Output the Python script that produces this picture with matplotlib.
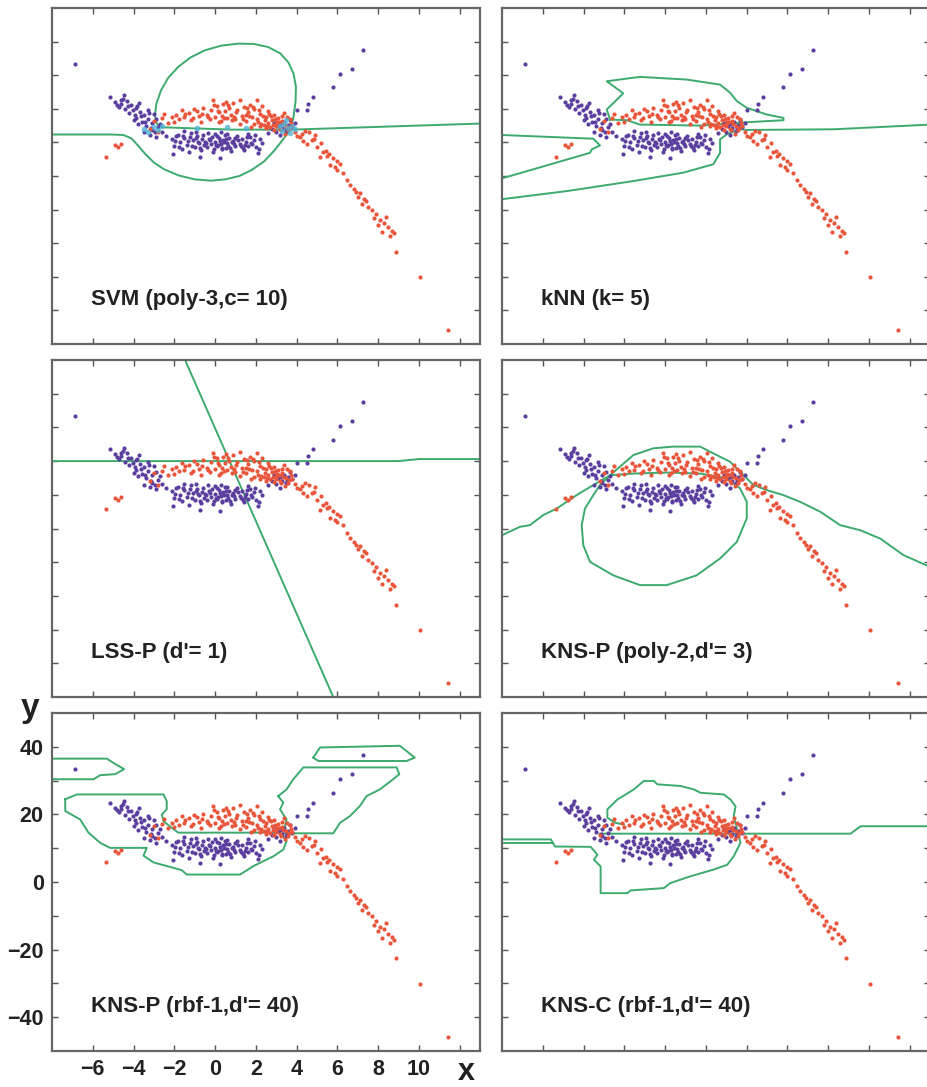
import numpy as np
import matplotlib
matplotlib.use('Agg')
import matplotlib.pyplot as plt

# ---- data (x, y) ----
purple_x = [-5.15,-4.46,-4.9,-4.6,-4.3,-4.1,-4.7,-4.4,-3.9,-3.7,-4.2,-3.5,-3.9,-3.3,-3.6,-3.1,-2.9,-3.4,-2.8,-3.1,-2.6,-3.8,-4.0,-3.3,-4.8,-3.0,-2.7,-3.5,-2.4,-3.2,-2.9,-4.5,-3.75,-4.05,
            -4.25,-3.95,-3.65,-3.45,-3.15,-2.95,-4.6,-3.85,-3.25,
            -2.1,-2.0,-2.04,-1.8,-1.7,-1.6,-1.5,-1.4,-1.3,-1.2,-1.1,-1.0,-0.9,-0.8,-0.73,-0.7,-0.6,-0.5,-0.4,-0.3,-0.2,-0.1,0.0,0.0,0.1,0.2,0.25,0.3,0.35,0.4,0.5,0.55,0.6,0.7,0.8,0.9,1.0,1.1,1.2,1.3,1.4,1.5,1.6,1.7,1.8,1.9,2.0,2.12,2.2,2.3,-0.25,0.15,0.45,-0.55,0.65,-1.9,-0.35,1.0,1.6,-1.5,0.3,-0.95,
            -1.95,-1.75,-1.55,-1.35,-1.15,-0.95,-0.75,-0.45,-0.15,0.05,0.25,0.55,0.75,0.95,1.15,1.35,1.55,1.75,1.95,2.15,-0.65,0.35,0.85,1.25,-1.25,-0.05,0.6,1.45,-0.85,0.1,
            2.6,2.8,3.0,3.1,3.3,3.4,3.5,3.6,3.7,3.8,3.2,2.9,3.9,3.55,3.25,
            4.0,4.5,4.58,4.82,5.8,6.13,6.7,7.27,-6.86]
purple_y = [23.5,24.0,22.0,21.5,22.3,21.0,20.6,19.8,20.2,19.0,18.7,18.2,17.4,17.0,16.2,15.8,16.9,14.9,14.5,13.6,13.2,15.5,16.6,19.6,21.2,18.4,15.6,13.0,12.0,12.3,11.6,23.0,21.8,19.5,
            20.9,18.2,17.8,16.0,14.2,13.0,22.5,20.7,18.8,
            11.0,9.0,6.6,12.2,10.0,8.1,11.3,9.2,7.0,12.8,10.6,8.6,11.8,9.8,5.6,7.6,12.1,10.2,8.5,11.0,9.4,7.2,12.6,10.1,8.8,11.4,5.3,9.6,7.9,10.8,12.2,8.4,9.9,11.2,7.4,10.4,8.9,12.0,9.6,11.0,7.8,10.2,8.8,11.6,9.4,10.7,8.6,6.8,11.0,9.8,10.6,9.2,10.0,9.1,9.0,11.9,12.8,11.4,12.6,13.3,13.0,13.1,
            10.3,8.7,12.0,10.4,9.0,11.2,8.2,9.8,11.7,9.1,10.5,11.1,8.3,9.5,10.8,8.4,11.5,9.9,12.1,8.0,10.9,8.3,10.0,9.0,11.6,8.1,12.4,9.3,10.1,11.9,
            12.8,14.0,13.2,15.0,14.2,16.0,13.5,15.2,16.8,14.6,12.1,15.8,15.9,14.4,15.4,
            19.5,19.5,21.5,23.5,26.4,30.4,31.9,37.5,33.4]

red_x = [-5.34,-4.9,-4.75,-4.6,
         -3.2,-3.0,-2.8,-2.6,-2.5,-2.3,-2.1,
         -1.9,-1.63,-1.5,-1.3,-1.1,-0.9,-0.8,-0.6,-0.4,-0.2,-0.08,0.0,0.1,0.2,0.3,0.4,0.5,0.6,0.7,0.8,0.9,1.0,1.1,1.23,1.3,1.4,1.5,1.6,1.7,1.8,1.9,2.04,2.1,2.2,2.3,2.4,2.5,2.6,2.7,2.8,2.9,3.0,3.1,3.2,3.3,3.4,3.5,3.6,3.7,3.8,2.2,2.6,2.9,3.05,1.9,2.45,2.75,3.35,1.5,0.95,0.45,-0.25,-1.2,-0.7,-2.0,0.2,1.2,1.75,3.9,3.45,4.0,
         -1.75,-1.45,-1.05,-0.65,-0.35,0.15,0.35,0.65,0.85,1.05,1.35,1.65,1.85,2.05,2.25,2.35,2.55,2.65,2.85,2.95,3.15,3.25,3.55,3.65,3.75,2.15,2.5,3.0,3.3,1.55,0.55,-0.05,
         4.17,4.4,4.74,4.5,4.9,5.0,5.15,5.3,5.5,5.64,5.8,6.0,6.13,6.29,6.0,6.62,6.8,7.1,6.9,7.2,7.3,7.7,7.5,7.9,8.1,8.4,8.2,8.0,8.5,8.8,8.6,8.9,10.05,11.44,4.3,5.6,4.6,5.2,
         4.25,4.85,5.45,5.9,6.45,7.0,7.4,7.8,8.3,8.7]
red_y = [5.8,9.1,8.6,9.4,
         14.0,16.5,13.0,17.2,18.5,15.9,17.6,
         18.2,19.5,17.5,18.8,17.2,19.2,17.8,20.2,18.1,19.6,22.5,17.6,20.8,18.9,16.5,21.3,19.4,17.4,20.1,18.3,21.8,16.9,19.7,22.7,18.0,20.6,16.4,19.0,21.2,17.5,19.9,22.5,16.0,18.6,20.8,15.2,17.6,19.3,14.6,16.7,18.2,15.6,17.3,14.1,16.4,18.8,15.0,13.6,17.0,14.8,14.8,15.8,13.8,16.1,15.4,16.6,17.9,15.4,18.1,17.7,17.2,16.9,16.6,16.0,16.2,16.0,15.6,14.7,13.2,12.6,12.0,
         17.0,18.4,19.9,18.6,17.5,19.3,18.0,21.0,16.6,18.9,16.9,17.8,20.5,17.0,15.6,17.9,15.0,18.4,15.3,17.0,16.0,13.6,17.6,14.4,15.8,19.6,14.2,14.8,17.8,20.2,22.0,21.2,
         11.6,13.5,10.6,9.6,12.2,8.6,5.6,7.1,6.0,3.2,5.3,4.4,3.7,0.9,1.9,-2.8,-3.9,-5.2,-4.8,-8.2,-6.7,-10.2,-9.3,-11.4,-13.2,-12.2,-16.6,-14.6,-15.3,-17.1,-18.0,-22.6,-30.2,-45.8,10.4,6.4,13.0,9.7,
         12.6,10.9,7.5,2.6,-1.3,-6.2,-7.4,-12.6,-14.0,-16.4]

# support vectors marked in the SVM panel
sv_x = [-3.3,-3.0,-2.8,-3.5,-2.6,3.2,3.4,3.6,3.8,3.5,3.9,3.3,0.6,1.5,-0.9,3.7]
sv_y = [13.2,14.6,13.8,14.0,14.9,14.8,15.6,14.2,15.0,16.6,13.9,13.4,14.6,14.2,14.3,12.9]

titles = ["SVM (poly-3,c= 10)", "kNN (k= 5)", "LSS-P (d'= 1)",
          "KNS-P (poly-2,d'= 3)", "KNS-P (rbf-1,d'= 40)", "KNS-C (rbf-1,d'= 40)"]

# ---- decision boundaries (green) ----
svm_curve = [(-8,12.35),(-5.08,12.35),(-4.5,12.2),(-4.1,11.2),(-3.77,9.0),(-3.4,6.4),(-3.0,4.0),(-2.5,2.0),(-1.8,0.2),
             (-1.0,-1.0),(-0.2,-1.4),(0.5,-1.0),(1.2,0.0),(1.8,1.8),(2.4,4.3),(2.9,7.5),(3.3,10.6),(3.69,13.8),
             (3.85,17.5),(3.95,22.2),(3.97,26.5),(3.85,30.5),(3.6,33.8),(3.2,36.5),(2.6,38.4),(1.9,39.3),(1.15,39.4),
             (0.3,38.8),(-0.5,37.4),(-1.2,35.3),(-1.8,32.5),(-2.3,29.2),(-2.65,25.5),(-2.88,21.5),(-2.95,18.0),
             (-2.85,15.5),(-2.62,14.5),(0.82,13.8),(3.77,13.8),(7.37,14.5),(13,15.6)]

knn_right = [(3.68,13.9),(4.01,13.7),(8.27,13.9),(13,15.3)]
knn_lower = [(-8,-6.9),(-4.83,-4.5),(-1.55,-1.5),(0.9,1.0),(2.37,3.5),(2.7,6.9),(2.7,10.9),(3.03,12.4),(3.68,13.9)]
knn_wedge = [(-8,12.2),(-3.52,11.1),(-3.19,9.1),(-3.6,7.9),(-3.68,6.9),(-6.46,2.0),(-8,-0.7)]
knn_hat = [(-2.7,16.8),(-2.86,19.8),(-2.05,24.6),(-2.86,28.2),(-1.23,29.5),(1.06,28.7),(2.7,27.2),(3.19,24.8),
           (3.52,22.3),(4.01,20.3),(4.99,18.3),(5.81,17.3),(5.81,16.6),(4.01,16.0),(1.72,15.0),(-1.23,15.3),
           (-1.88,16.6),(-2.7,16.8)]

lss_flat = [(-8,20.0),(9.0,20.0),(10.0,20.6),(13,20.6)]
lss_diag = [(-1.47,50),(5.8,-50)]

poly_arch = [(-8,-2.0),(-7.12,0.5),(-6.63,1.0),(-5.97,4.0),(-5.32,5.9),(-4.34,9.9),(-3.52,12.9),(-2.7,15.8),
             (-1.55,21.8),(-0.57,23.8),(0.41,24.3),(1.72,24.3),(2.37,22.3),(3.19,19.8),(3.68,16.8),(4.34,12.9),
             (4.99,11.4),(5.81,9.9),(6.63,7.9),(7.61,5.0),(8.59,1.0),(9.57,-0.5),(10.56,-3.0),(11.7,-7.9),(13,-11.4)]
poly_loop = [(-2.7,15.8),(-1.55,16.3),(0.08,16.6),(1.72,16.3),(3.03,14.9),(3.68,11.9),(4.01,7.9),(4.01,3.0),
             (3.52,-4.0),(2.7,-8.9),(1.55,-13.9),(0.08,-16.8),(-1.23,-16.8),(-2.54,-13.9),(-3.68,-9.9),(-4.01,-5.0),
             (-4.09,1.0),(-3.93,5.9),(-3.52,9.9),(-3.19,12.9),(-2.7,15.8)]

rbfp_a = [(-8,36.5),(-5.31,36.5),(-4.9,34.9),(-4.46,33.4),(-4.9,31.9),(-5.64,31.6),(-5.96,30.4),(-8,30.4)]
rbfp_b = [(-7.35,24.5),(-6.78,25.9),(-2.53,25.9),(-2.37,23.9),(-2.37,21.5),(-2.61,20.0),(-2.53,18.0),(-2.12,16.0),
          (-1.8,14.6),(3.19,14.6),(3.51,12.1),(3.35,9.6),(2.86,7.6),(1.88,4.7),(1.23,2.2),(-1.39,2.2),(-1.63,3.5),
          (-3.02,5.8),(-3.51,7.8),(-3.35,10.1),(-5.15,10.1),(-5.64,11.6),(-6.21,14.6),(-6.62,18.5),(-7.35,21.0),(-7.35,24.5)]
rbfp_c = [(4.82,36.8),(5.15,39.8),(9.07,40.3),(9.8,36.8),(9.4,35.8),(5.07,35.8),(4.82,36.8)]
rbfp_d = [(3.1,25.4),(3.51,27.4),(3.84,30.4),(4.33,33.9),(8.91,33.9),(9.04,31.9),(8.74,30.4),(8.09,27.4),(7.43,25.4),
          (7.11,22.5),(6.62,19.5),(6.13,17.5),(5.8,14.4),(3.35,14.4),(3.51,18.5),(3.19,21.5),(3.35,23.5),(3.1,25.4)]

rbfc_loop = [(-8,12.6),(-5.6,12.6),(-5.4,10.5),(-3.65,10.4),(-3.32,8.1),(-3.49,6.6),(-3.16,4.6),(-3.16,-3.3),
             (-1.85,-3.3),(-1.69,-2.5),(-0.06,-1.8),(0.27,-0.3),(1.25,1.7),(2.39,3.7),(3.05,5.1),(3.37,7.6),(3.7,11.6),
             (3.54,15.5),(3.37,19.5),(3.46,22.4),(3.21,24.4),(2.88,25.9),(1.74,26.4),(1.41,27.4),(0.76,28.4),
             (-0.38,28.9),(-0.55,29.9),(-1.04,29.9),(-1.53,27.4),(-2.34,24.4),(-2.83,21.5),(-2.83,19.0),(-2.43,17.5),(-2.02,17.0)]
rbfc_mid = [(-3.2,14.3),(3.6,14.3),(9.1,14.3),(9.6,16.5),(13,16.5)]
rbfc_edge = [(-8,11.4),(-5.5,11.4)]

boundaries = [[svm_curve], [knn_right, knn_lower, knn_wedge, knn_hat], [lss_flat, lss_diag],
              [poly_arch, poly_loop], [rbfp_a, rbfp_b, rbfp_c, rbfp_d], [rbfc_loop, rbfc_mid, rbfc_edge]]

PURPLE = '#5a3f9e'
RED = '#e8553a'
GREEN = '#3daa6e'
CYAN = '#4fb3d6'

fig = plt.figure(figsize=(9.27, 10.87), dpi=100)

col_x = [52/927, 502/927]
w = 428/927
rows = [(1-344/1087, 336/1087), (1-697/1087, 337/1087), (1-1051/1087, 338/1087)]

for i in range(6):
    r, c = i // 2, i % 2
    ax = fig.add_axes([col_x[c], rows[r][0], w, rows[r][1]])
    ax.set_xlim(-8, 13)
    ax.set_ylim(-50, 50)
    for seg in boundaries[i]:
        seg = np.array(seg)
        ax.plot(seg[:, 0], seg[:, 1], color=GREEN, lw=1.4, zorder=2)
    ax.scatter(purple_x, purple_y, s=9, color=PURPLE, linewidths=0, zorder=3)
    ax.scatter(red_x, red_y, s=9, color=RED, linewidths=0, zorder=3)
    if i == 0:
        ax.scatter(sv_x, sv_y, s=16, color=CYAN, linewidths=0, alpha=0.8, zorder=4)
    ax.text(-6.1, -36.8, titles[i], fontsize=16, fontweight='bold', family='Liberation Sans',
            color='#222222', va='center', ha='left')
    ax.set_xticks(np.arange(-6, 13, 2))
    ax.set_yticks(np.arange(-40, 41, 10))
    ax.tick_params(direction='in', length=4, width=1, color='#555555', top=True, right=True)
    for s in ax.spines.values():
        s.set_color('#666666')
        s.set_linewidth(1.6)
    if i == 4:
        ax.set_xticklabels([str(v).replace('-', '\u2212') for v in range(-6, 13, 2)][:-1] + [''])
        ax.set_yticklabels([str(v).replace('-', '\u2212') if v % 20 == 0 else '' for v in range(-40, 41, 10)])
        for lab in ax.get_xticklabels() + ax.get_yticklabels():
            lab.set_fontsize(15.5)
            lab.set_fontweight('bold')
            lab.set_family('Liberation Sans')
            lab.set_color('#222222')
        ax.tick_params(pad=6)
    else:
        ax.set_xticklabels([])
        ax.set_yticklabels([])

fig.text(30/927, 1-708/1087, 'y', fontsize=24, fontweight='bold', family='Liberation Sans',
         ha='center', va='center', color='#222222')
fig.text(466/927, 1-1072/1087, 'x', fontsize=22, fontweight='bold', family='Liberation Sans',
         ha='center', va='center', color='#222222')

fig.savefig('out.png', dpi=100)
